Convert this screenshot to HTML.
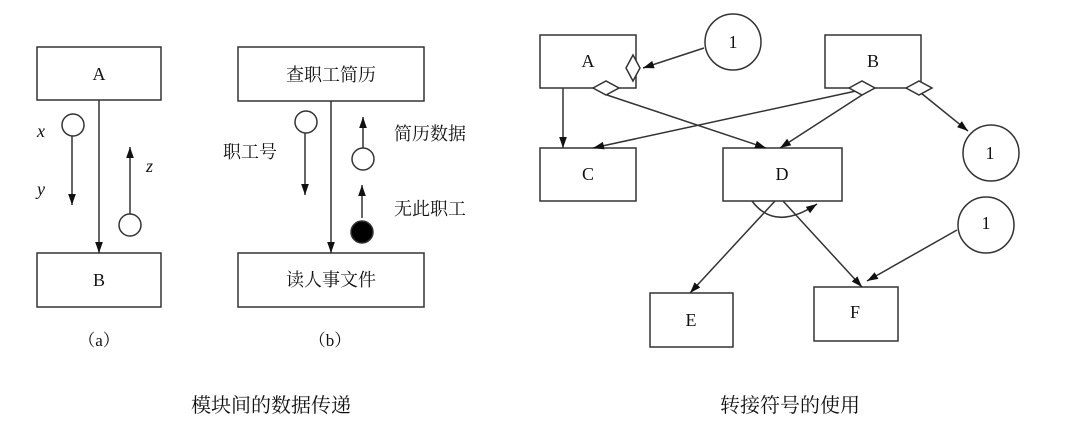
<!DOCTYPE html>
<html><head><meta charset="utf-8"><style>
html,body{margin:0;padding:0;background:#fff;}
svg text{font-family:"Liberation Serif","Noto Serif CJK SC",serif;fill:#111;}
</style></head><body>
<svg width="1071" height="426" viewBox="0 0 1071 426" xmlns="http://www.w3.org/2000/svg">
<defs>
<marker id="ah" viewBox="0 0 10 10" refX="10" refY="5" markerWidth="11" markerHeight="11" markerUnits="userSpaceOnUse" orient="auto">
<path d="M0,1.5 L10,5 L0,8.5 z" fill="#111"/></marker>
</defs>
<g stroke="#333" stroke-width="1.5" fill="none">
<!-- (a) -->
<rect x="37" y="47" width="124" height="53"/>
<rect x="37" y="253" width="124" height="54"/>
<line x1="99" y1="100" x2="99" y2="253" marker-end="url(#ah)"/>
<circle cx="73" cy="125" r="11"/>
<line x1="72" y1="136" x2="72" y2="205" marker-end="url(#ah)"/>
<circle cx="130" cy="225" r="11"/>
<line x1="130" y1="214" x2="130" y2="147" marker-end="url(#ah)"/>
<!-- (b) -->
<rect x="238" y="47" width="186" height="54"/>
<rect x="238" y="253" width="186" height="54"/>
<line x1="331" y1="101" x2="331" y2="253" marker-end="url(#ah)"/>
<circle cx="306" cy="122" r="11"/>
<line x1="305" y1="133" x2="305" y2="195" marker-end="url(#ah)"/>
<circle cx="363" cy="159" r="11"/>
<line x1="363" y1="148" x2="363" y2="117" marker-end="url(#ah)"/>
<circle cx="362" cy="232" r="11" fill="#000"/>
<line x1="362" y1="218" x2="362" y2="185" marker-end="url(#ah)"/>
<!-- right -->
<rect x="540" y="35" width="96" height="53"/>
<rect x="825" y="35" width="96" height="53"/>
<rect x="540" y="148" width="96" height="53"/>
<rect x="723" y="148" width="119" height="53"/>
<rect x="650" y="293" width="83" height="54"/>
<rect x="814" y="287" width="84" height="54"/>
<circle cx="733" cy="42" r="28"/>
<circle cx="991" cy="153" r="28"/>
<circle cx="986" cy="225" r="28"/>
<line x1="704" y1="48" x2="643" y2="68" marker-end="url(#ah)"/>
<line x1="563" y1="88" x2="563" y2="148" marker-end="url(#ah)"/>
<line x1="607" y1="95" x2="766" y2="148" marker-end="url(#ah)"/>
<line x1="856" y1="91" x2="593" y2="148" marker-end="url(#ah)"/>
<line x1="862" y1="95" x2="780" y2="148" marker-end="url(#ah)"/>
<line x1="921" y1="93" x2="968" y2="131" marker-end="url(#ah)"/>
<line x1="775" y1="201" x2="690" y2="293" marker-end="url(#ah)"/>
<line x1="783" y1="201" x2="862" y2="287" marker-end="url(#ah)"/>
<path d="M752,201 Q775,232 817,204" marker-end="url(#ah)"/>
<line x1="957" y1="230" x2="867" y2="281" marker-end="url(#ah)"/>
<path d="M633,55 L640,68 L633,81 L626,68 Z" fill="#fff"/>
<path d="M593,88 L606,81 L619,88 L606,95 Z" fill="#fff"/>
<path d="M849,88 L862,81 L875,88 L862,95 Z" fill="#fff"/>
<path d="M906,88 L919,81 L932,88 L919,95 Z" fill="#fff"/>
</g>
<g font-size="18" text-anchor="middle">
<text x="99" y="80">A</text>
<text x="99" y="286">B</text>
<text x="331" y="81">查职工简历</text>
<text x="331" y="286">读人事文件</text>
<text x="250" y="158">职工号</text>
<text x="430" y="140">简历数据</text>
<text x="430" y="215">无此职工</text>
<text x="99" y="346" font-size="17">（a）</text>
<text x="330" y="346" font-size="17">（b）</text>
<text x="588" y="67">A</text>
<text x="873" y="67">B</text>
<text x="588" y="180">C</text>
<text x="782" y="180">D</text>
<text x="691" y="326">E</text>
<text x="855" y="318">F</text>
<text x="733" y="48">1</text>
<text x="990" y="159">1</text>
<text x="986" y="229">1</text>
<text x="271" y="412" font-size="20">模块间的数据传递</text>
<text x="790" y="412" font-size="20">转接符号的使用</text>
</g>
<g font-size="18" font-style="italic">
<text x="37" y="137">x</text>
<text x="37" y="195">y</text>
<text x="146" y="172">z</text>
</g>
</svg>
</body></html>
